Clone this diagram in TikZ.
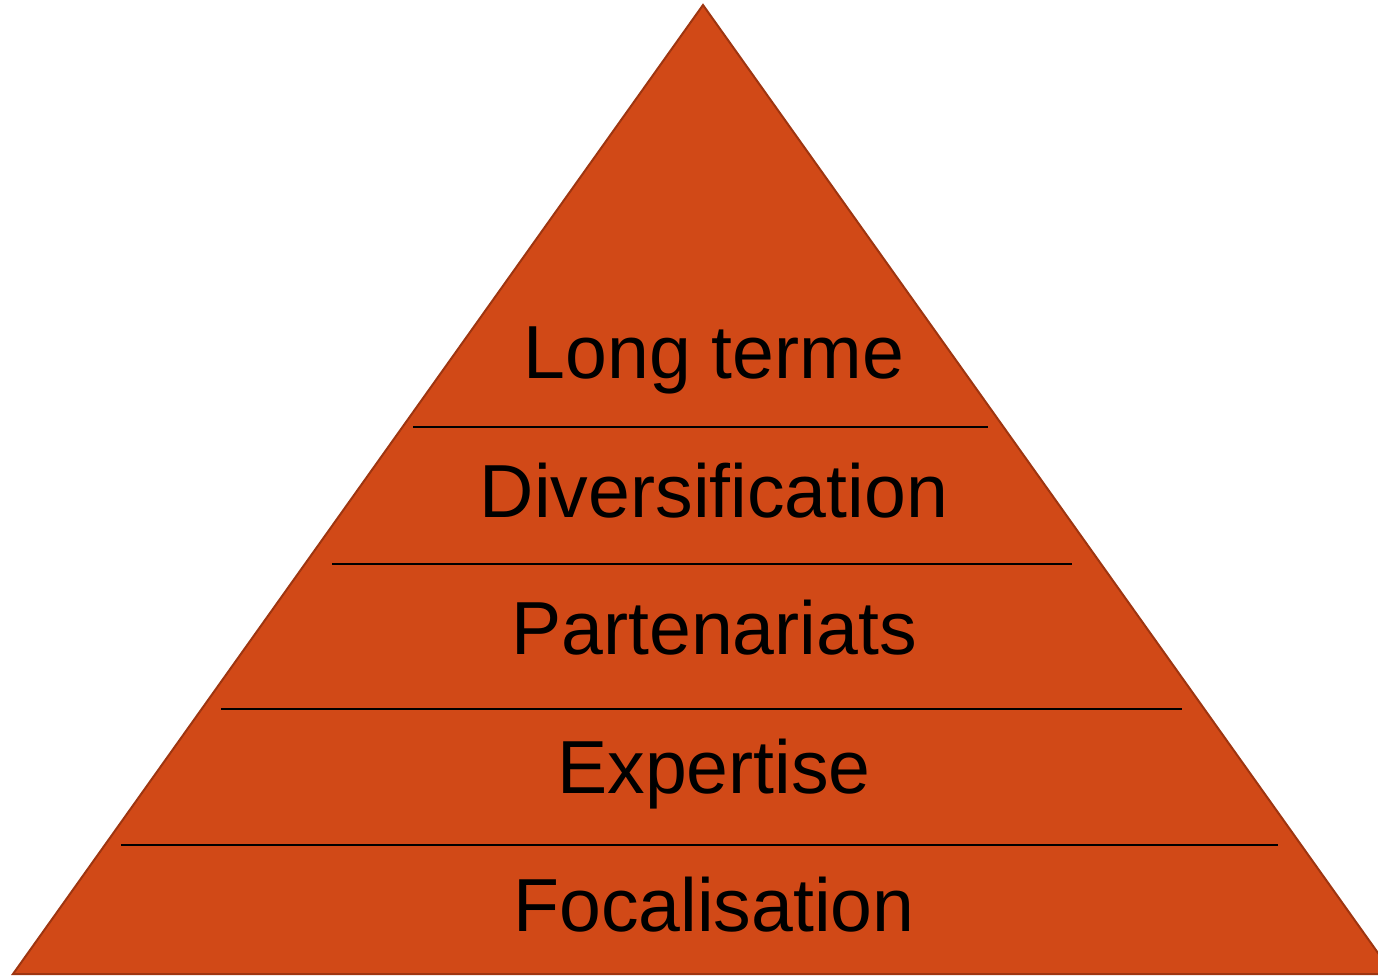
\documentclass[tikz,border=0pt]{standalone}
\usepackage{fontspec}
\setmainfont{Liberation Sans}
\usetikzlibrary{positioning}
\definecolor{pyramidfill}{HTML}{D14917}
\definecolor{pyramiddraw}{HTML}{9E3510}

\begin{document}
\begin{tikzpicture}[x=0.5pt, y=-0.5pt]
                            \tikzset{level/.style={font=\fontsize{37.6}{44}\selectfont, anchor=base, inner sep=0pt}}
                            \tikzset{divider/.style={draw=black, line width=1pt}}
                            \useasboundingbox (0,0) rectangle (1378,976);
                            \clip (0,0) rectangle (1378,976);
                            \coordinate (top) at (703, 5);
                            \coordinate (left) at (13, 974);
                            \coordinate (right) at (1393, 974);
                            \draw[fill=pyramidfill, draw=pyramiddraw, line width=1pt] (top) -- (right) -- (left) -- cycle;
                            \node[level] (long) at (714, 378) {Long terme};
                            \node[level] (diver) at (714, 517) {Diversification};
                            \node[level] (parten) at (714, 654) {Partenariats};
                            \node[level] (expert) at (714, 793) {Expertise};
                            \node[level] (focal) at (714, 931) {Focalisation};
                            \draw[divider] (413, 427) -- (988, 427);
                            \draw[divider] (332, 564) -- (1072, 564);
                            \draw[divider] (221, 709) -- (1182, 709);
                            \draw[divider] (121, 845) -- (1278, 845);
                        \end{tikzpicture}
\end{document}
